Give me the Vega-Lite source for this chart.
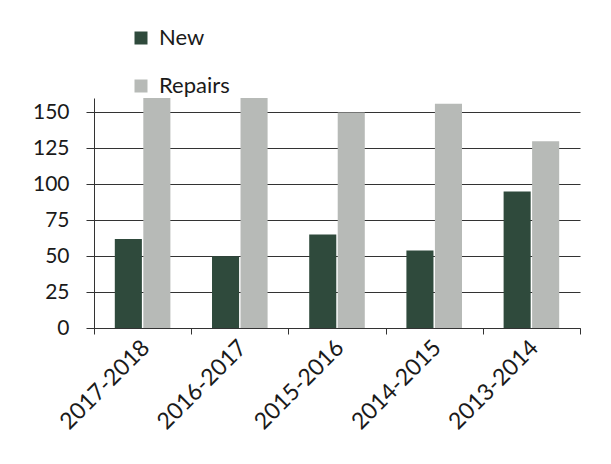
{
  "$schema": "https://vega.github.io/schema/vega-lite/v6.json",
  "width": 486,
  "height": 230,
  "autosize": {"type": "none"},
  "padding": {"left": 94, "top": 98, "right": 31, "bottom": 136},
  "background": "white",
  "config": {"view": {"stroke": null}, "font": "Lato"},
  "data": {
    "values": [
      {"period": "2017-2018", "series": "New", "value": 62},
      {"period": "2017-2018", "series": "Repairs", "value": 160},
      {"period": "2016-2017", "series": "New", "value": 50},
      {"period": "2016-2017", "series": "Repairs", "value": 160},
      {"period": "2015-2016", "series": "New", "value": 65},
      {"period": "2015-2016", "series": "Repairs", "value": 150},
      {"period": "2014-2015", "series": "New", "value": 54},
      {"period": "2014-2015", "series": "Repairs", "value": 156},
      {"period": "2013-2014", "series": "New", "value": 95},
      {"period": "2013-2014", "series": "Repairs", "value": 130}
    ]
  },
  "mark": {"type": "bar", "clip": true},
  "encoding": {
    "x": {
      "field": "period",
      "type": "nominal",
      "sort": null,
      "scale": {"paddingInner": 0, "paddingOuter": 0},
      "axis": {
        "title": null,
        "labelAngle": -45,
        "labelFontSize": 23,
        "labelColor": "#1a1a1a",
        "tickBand": "extent",
        "tickSize": 6,
        "tickColor": "#333",
        "domainColor": "#333",
        "labelPadding": 2,
        "labelOffset": -5,
        "grid": false
      }
    },
    "xOffset": {
      "field": "series",
      "sort": ["New", "Repairs"],
      "scale": {"paddingInner": 0.05, "paddingOuter": 0.73}
    },
    "y": {
      "field": "value",
      "type": "quantitative",
      "scale": {"domain": [0, 160], "nice": false},
      "axis": {
        "title": null,
        "values": [0, 25, 50, 75, 100, 125, 150],
        "grid": true,
        "gridColor": "#333",
        "gridWidth": 1.2,
        "tickSize": 8,
        "tickColor": "#333",
        "domainColor": "#333",
        "labelPadding": 17,
        "labelFontSize": 21,
        "labelColor": "#1a1a1a"
      }
    },
    "color": {
      "field": "series",
      "type": "nominal",
      "scale": {"domain": ["New", "Repairs"], "range": ["#2f4a3c", "#b7bab7"]},
      "legend": {
        "title": null,
        "orient": "none",
        "legendX": 36,
        "legendY": -71,
        "direction": "vertical",
        "symbolType": "square",
        "symbolSize": 169,
        "symbolStrokeWidth": 0,
        "labelFontSize": 22,
        "labelColor": "#1a1a1a",
        "labelOffset": 7,
        "rowPadding": 26
      }
    }
  }
}
